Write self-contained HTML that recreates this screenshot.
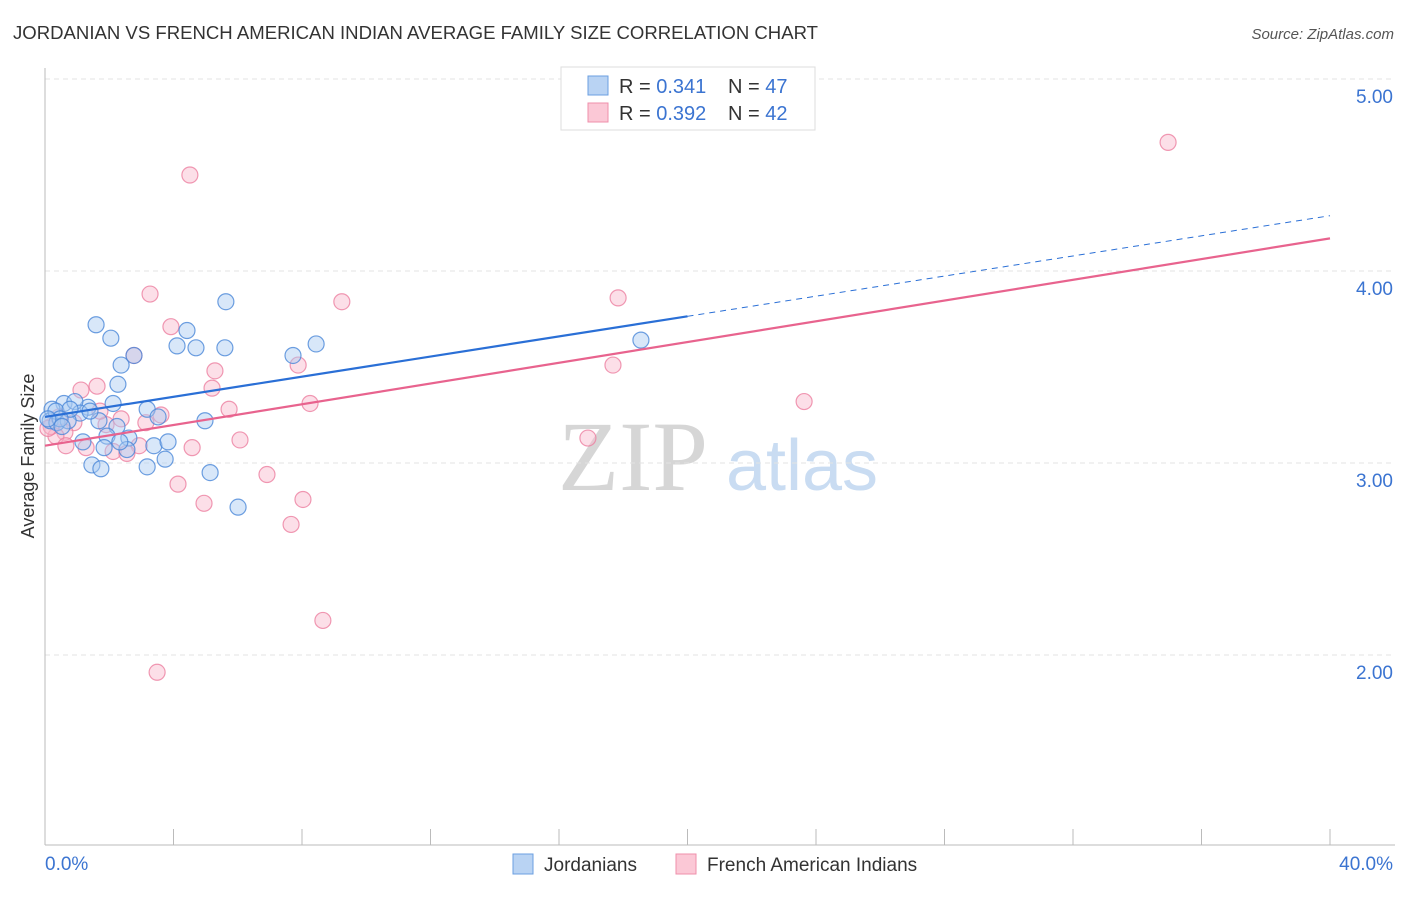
<!DOCTYPE html>
<html><head><meta charset="utf-8"><style>
body{margin:0;background:#fff;font-family:"Liberation Sans",sans-serif;}
</style></head><body>
<svg id="chart" width="1406" height="892" xmlns="http://www.w3.org/2000/svg" font-family="Liberation Sans, sans-serif">
<text x="13" y="39" font-size="18" fill="#333" textLength="805" lengthAdjust="spacingAndGlyphs">JORDANIAN VS FRENCH AMERICAN INDIAN AVERAGE FAMILY SIZE CORRELATION CHART</text>
<text x="1394" y="39" font-size="15" fill="#555" text-anchor="end" font-style="italic">Source: ZipAtlas.com</text>
<g>
<text x="633" y="490" font-size="100" fill="#d6d6d6" text-anchor="middle" style="font-family:'Liberation Serif',serif">ZIP</text>
<text x="802" y="490" font-size="72" fill="#c9dcf2" text-anchor="middle">atlas</text>
</g>
<g id="grid"></g>
<g id="axes"></g>
<g id="marks"></g>
<text transform="translate(34,456) rotate(-90)" font-size="18" fill="#333" text-anchor="middle">Average Family Size</text>
<g>
<rect x="561" y="67" width="254" height="63" fill="#fff" stroke="#ddd"/>
<rect x="588" y="76" width="20" height="19" fill="#b9d3f3" stroke="#6b9fe0"/>
<rect x="588" y="103" width="20" height="19" fill="#fbc8d6" stroke="#ef8fab"/>
<text x="619" y="93" font-size="20" fill="#333">R = <tspan fill="#3b74d1">0.341</tspan></text>
<text x="728" y="93" font-size="20" fill="#333">N = <tspan fill="#3b74d1">47</tspan></text>
<text x="619" y="120" font-size="20" fill="#333">R = <tspan fill="#3b74d1">0.392</tspan></text>
<text x="728" y="120" font-size="20" fill="#333">N = <tspan fill="#3b74d1">42</tspan></text>
</g>
<g>
<rect x="513" y="854" width="20" height="20" fill="#b9d3f3" stroke="#6b9fe0"/>
<text x="544" y="871" font-size="19" fill="#333">Jordanians</text>
<rect x="676" y="854" width="20" height="20" fill="#fbc8d6" stroke="#ef8fab"/>
<text x="707" y="871" font-size="19" fill="#333">French American Indians</text>
</g>
</svg>
<script>
const blueX=[1.59,2.05,2.37,2.27,2.77,4.42,4.11,4.70,5.60,5.63,7.72,8.44,18.55,2.12,3.18,3.52,4.98,1.34,0.59,0.93,1.09,0.22,0.16,0.37,0.72,1.68,2.24,1.93,2.61,3.39,3.83,1.18,2.55,1.46,1.74,3.18,3.74,5.14,6.01,0.34,0.78,0.47,1.84,0.09,1.40,2.33,0.53];
const blueY=[3.72,3.65,3.51,3.41,3.56,3.69,3.61,3.60,3.60,3.84,3.56,3.62,3.64,3.31,3.28,3.24,3.22,3.29,3.31,3.32,3.26,3.28,3.22,3.21,3.22,3.22,3.19,3.14,3.13,3.09,3.11,3.11,3.07,2.99,2.97,2.98,3.02,2.95,2.77,3.27,3.28,3.23,3.08,3.23,3.27,3.11,3.19];
const pinkX=[34.96,4.51,3.27,9.24,17.84,3.92,2.77,7.88,17.68,5.29,1.62,1.12,5.20,8.25,23.63,5.73,3.61,2.37,3.14,0.90,0.62,0.34,0.19,1.90,6.07,4.58,2.93,2.12,1.28,0.65,2.55,6.91,4.14,8.03,4.95,7.66,8.65,3.49,16.90,0.44,1.71,0.09];
const pinkY=[4.67,4.50,3.88,3.84,3.86,3.71,3.56,3.51,3.51,3.48,3.40,3.38,3.39,3.31,3.32,3.28,3.25,3.23,3.21,3.21,3.16,3.14,3.19,3.20,3.12,3.08,3.09,3.06,3.08,3.09,3.05,2.94,2.89,2.81,2.79,2.68,2.18,1.91,3.13,3.24,3.27,3.18];
const yTicks=[2,3,4,5];
const yTickLabels=["2.00","3.00","4.00","5.00"];
const blueTrend=[3.24,0.0262]; // intercept, slope per %
const pinkTrend=[3.09,0.027];
const blueSolidEnd=20;

const NS="http://www.w3.org/2000/svg";
const sx=v=>45+v/40*1285;
const sy=v=>79+(5-v)*192;
function mk(tag,attrs,parent){const e=document.createElementNS(NS,tag);for(const k in attrs)e.setAttribute(k,attrs[k]);parent.appendChild(e);return e;}
const grid=document.getElementById('grid'),axes=document.getElementById('axes'),marks=document.getElementById('marks');
yTicks.forEach((t,i)=>{
  const l=mk('line',{x1:45,x2:1395,y1:sy(t),y2:sy(t),stroke:'#e3e3e3','stroke-dasharray':'5,4'},grid);
  
  
  const tx=mk('text',{x:1393,y:sy(t)+24,'font-size':19,fill:'#3b74d1','text-anchor':'end'},axes);
  tx.textContent=yTickLabels[i];
  
  
});
let a=mk('line',{x1:45,x2:45,y1:68,y2:845,stroke:'#bbb'},axes);


a=mk('line',{x1:45,x2:1395,y1:845,y2:845,stroke:'#bbb'},axes);


for(let p=4;p<=40;p+=4){
  const t=mk('line',{x1:sx(p),x2:sx(p),y1:829,y2:845,stroke:'#bbb'},axes);
  
  
}
let xl=mk('text',{x:45,y:870,'font-size':19,fill:'#3b74d1'},axes);xl.textContent='0.0%';


xl=mk('text',{x:1393,y:870,'font-size':19,fill:'#3b74d1','text-anchor':'end'},axes);xl.textContent='40.0%';



function pts(X,Y,fill,stroke,name){
  X.forEach((x,i)=>{
    const c=mk('circle',{cx:sx(x),cy:sy(Y[i]),r:8,fill:fill,'fill-opacity':0.45,stroke:stroke,'stroke-width':1.2,'stroke-opacity':0.8},marks);
    
    
  });
}
pts(pinkX,pinkY,'#f8b8cb','#ec7fa0','point-french-american-indian');
pts(blueX,blueY,'#a9c9f1','#4a87d8','point-jordanian');
const bt=x=>blueTrend[0]+blueTrend[1]*x, pt=x=>pinkTrend[0]+pinkTrend[1]*x;
let ln=mk('line',{x1:sx(0),y1:sy(pt(0)),x2:sx(40),y2:sy(pt(40)),stroke:'#e8638e','stroke-width':2.2},marks);


ln=mk('line',{x1:sx(0),y1:sy(bt(0)),x2:sx(blueSolidEnd),y2:sy(bt(blueSolidEnd)),stroke:'#2a6fd6','stroke-width':2.2},marks);


ln=mk('line',{x1:sx(blueSolidEnd),y1:sy(bt(blueSolidEnd)),x2:sx(40),y2:sy(bt(40)),stroke:'#2a6fd6','stroke-width':1,'stroke-dasharray':'6,5'},marks);


</script>
</body></html>
